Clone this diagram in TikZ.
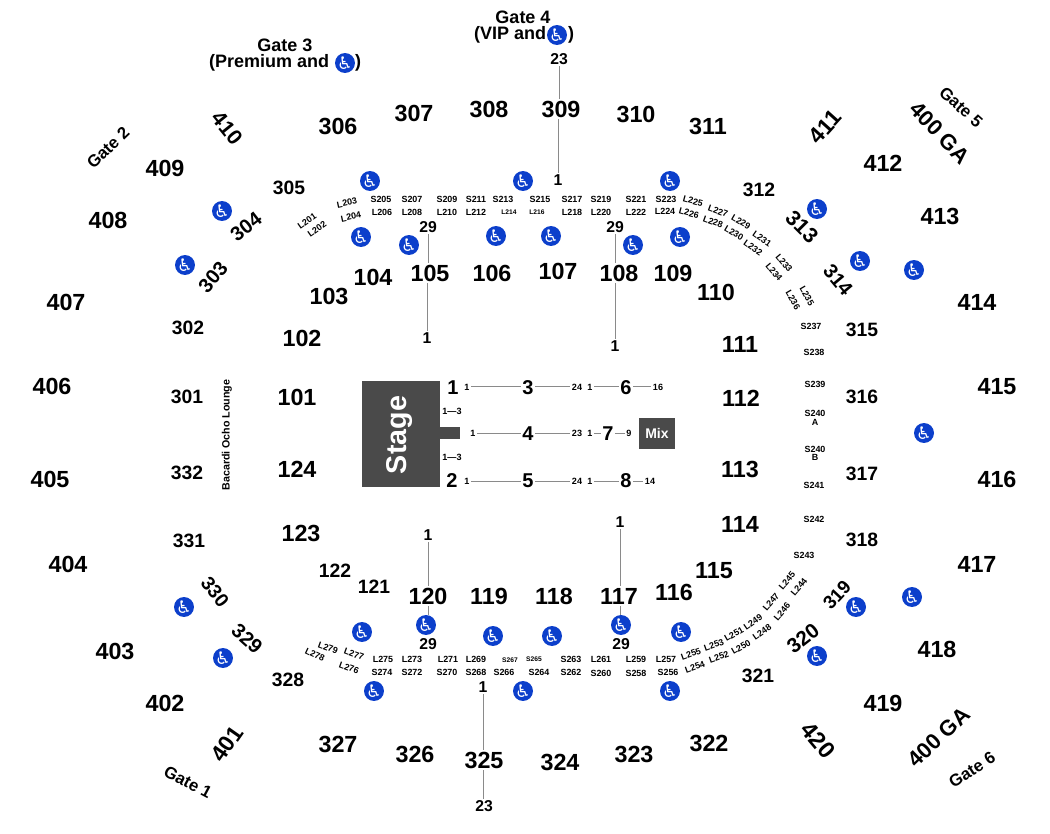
\documentclass[tikz,border=0pt]{standalone}
\usepackage{fontspec}
\setmainfont{Liberation Sans}
\newfontfamily\djv{DejaVu Sans}
\definecolor{wcblue}{HTML}{0C3FCB}
\definecolor{dk}{HTML}{4A4A4A}
\definecolor{ln}{HTML}{8A8A8A}
\newcommand{\fz}[1]{\bfseries\fontsize{#1}{#1}\selectfont}
\tikzset{
 lab/.style={inner sep=1.2pt,text=black},
 big/.style={lab,font=\fz{17.5}},
 mid/.style={lab,font=\fz{14.5}},
 pit/.style={lab,font=\fz{15}},
 num/.style={lab,font=\fz{11.8}},
 gate/.style={lab,font=\fz{13.5}},
 gatesm/.style={lab,font=\fz{12.6}},
 seat/.style={lab,font=\fz{6.7}},
 tiny/.style={lab,font=\fz{5}},
 row/.style={lab,font=\fz{6.8}},
 wc/.style={circle,fill=wcblue,text=white,minimum size=14.6pt,inner sep=0pt,font=\djv\fontsize{13}{13}\selectfont},
 conn/.style={draw=ln,line width=0.75pt},
 block/.style={fill=dk,draw=none}
}
\begin{document}
\begin{tikzpicture}[x=0.75pt,y=-0.75pt]
\useasboundingbox (0,0) rectangle (1050,834);
% stage and mix
\fill[block] (362,381) rectangle (440,487);
\fill[block] (440,427) rectangle (460,439);
\node[text=white,font=\fz{21.5},rotate=90,inner sep=0pt] (stage) at (400,435) {Stage};
\node[block,text=white,font=\fz{10.5},minimum width=27pt,minimum height=23.3pt,inner sep=0pt] (mix) at (657,433.5) {Mix};
% upper and outer sections
\foreach \n/\x/\y in {409/165/168,408/108/220,407/66/302,406/52/386,405/50/479,404/68/564,403/115/651,402/165/703,
 412/883/163,413/940/216,414/977/302,415/997/387,416/997/479,417/977/564,418/937/649,419/883/703,
 306/338/126,307/414/113,308/489/109,309/561/109,310/636/114,311/708/126,
 327/338/744,326/415/754,325/484/760,324/560/762,323/634/754,322/709/743,
 104/373/277,105/430/273,106/492/273,107/558/271,108/619/273,109/673/273,110/716/292,
 103/329/296,102/302/338,101/297/397,124/297/469,123/301/533,
 120/428/596,119/489/596,118/554/596,117/619/596,116/674/592,115/714/571,
 114/740/524,113/740/469,112/741/398,111/740/344}
 \node[big] (s\n) at (\x,\y) {\n};
\foreach \n/\x/\y in {305/289/188,312/759/190,302/188/328,301/187/397,332/187/473,331/189/541,
 315/862/330,316/862/397,317/862/474,318/862/540,328/288/680,321/758/676,121/374/587,122/335/571}
 \node[mid] (s\n) at (\x,\y) {\n};
% rotated sections
\foreach \n/\x/\y/\r/\z in {304/246/227/38/15,303/213/277/50/15,330/215/592/-52/14.5,329/247/639/-42/15,319/837/595/47/14,
 313/802/227/-45/16,314/838/280/-50/15,320/803/638/38/15.5,
 410/227/128/-51/16,411/825/127/48/17,401/227/744/55/17,420/818/740/-50/17.5}
 \node[lab,font=\fz{\z},rotate=\r] (s\n) at (\x,\y) {\n};
\node[lab,font=\fz{16.5},rotate=-46] (gaTop) at (940,133) {400 GA};
\node[lab,font=\fz{16.5},rotate=44] (gaBot) at (939,737) {400 GA};
% gates
\node[gatesm,rotate=44] (g2) at (108,148) {Gate 2};
\node[gatesm,rotate=-42] (g5) at (961,107) {Gate 5};
\node[gatesm,rotate=-28] (g1) at (188,782) {Gate 1};
\node[gatesm,rotate=33] (g6) at (972,770) {Gate 6};
\node[gate] (g3) at (285,45) {Gate 3};
\node[gate,anchor=east] (g3b) at (331,63) {(Premium and};
\node[gate] (g3c) at (358,63) {)};
\node[gate] (g4) at (523,17) {Gate 4};
\node[gate,anchor=east] (g4b) at (548,35) {(VIP and};
\node[gate] (g4c) at (571,35) {)};
% wheelchair marks
\foreach \i/\x/\y in {1/370/181,2/523/181,3/670/181,4/222/211,5/817/209,6/361/237,7/409/245,8/496/236,9/551/236,10/633/245,11/680/237,12/185/265,13/860/261,14/914/270,15/924/433,16/362/632,17/426/625,18/493/636,19/552/636,20/621/625,21/681/632,22/184/607,23/223/658,24/856/607,25/912/597,26/817/656,27/374/691,28/523/691,29/670/691,30/345/63,31/557/35}
 \node[wc] (wc\i) at (\x,\y) {♿};
% row numbers
\foreach \i/\t/\x/\y in {a/23/559/59,b/1/558/180,c/29/428/227,d/29/615/227,e/1/427/338,f/1/615/346,g/1/620/522,h/1/428/535,i/29/428/644,j/29/621/644,k/1/483/687,l/23/484/806}
 \node[num] (r\i) at (\x,\y) {\t};
% seats, flat
\foreach \t/\x/\y in {S205/381/199,S207/412/199,S209/447/199,S211/476/199,S213/503/199,S215/540/199,S217/572/199,S219/601/199,S221/636/199,S223/666/199,
 L206/382/212,L208/412/212,L210/447/212,L212/476/212,L218/572/212,L220/601/212,L222/636/212,L224/665/211,
 S237/811/326,S238/814/352,S239/815/384,S240/815/413,S241/814/485,S242/814/519,S243/804/555,
 L275/383/659,L273/412/659,L271/448/659,L269/476/659,S263/571/659,L261/601/659,L259/636/659,L257/666/659,
 S274/382/672,S272/412/672,S270/447/672,S268/476/672,S266/504/672,S264/539/672,S262/571/672,S260/601/673,S258/636/673,S256/668/672}
 \node[seat] (\t) at (\x,\y) {\t};
\node[seat] (S240A) at (815,422) {A};
\node[seat] (S240b) at (815,449) {S240};
\node[seat] (S240B) at (815,457) {B};
\foreach \t/\x/\y in {L214/509/212,L216/537/212,S267/510/660,S265/534/659}
 \node[tiny] (\t) at (\x,\y) {\t};
% seats, on the curve
\foreach \t/\x/\y/\r in {L203/347/203/12,L204/351/217/12,L201/307/221/35,L202/317/229/35,
 L225/693/201/-15,L226/689/213/-15,L227/718/211/-20,L228/713/222/-20,L229/741/222/-30,L230/734/233/-30,L231/762/239/-35,L232/753/248/-35,L233/784/263/-50,L234/774/272/-50,L235/807/296/-60,L236/793/300/-60,
 L279/328/648/-20,L278/315/655/-25,L277/354/654/-20,L276/349/668/-20,
 L255/691/654/20,L254/695/667/20,L253/714/645/20,L252/719/657/20,L251/734/634/30,L250/741/647/30,L249/753/622/35,L248/762/632/35,L247/771/602/50,L246/782/612/50,L245/787/581/50,L244/799/587/50}
 \node[seat,rotate=\r] (\t) at (\x,\y) {\t};
% lounge
\node[lab,font=\fz{8},rotate=90] (lounge) at (227,435) {Bacardi Ocho Lounge};
% floor
\foreach \n/\x/\y in {1/453/388,2/452/481,3/528/388,4/528/434,5/528/481,6/626/388,7/608/434,8/626/481}
 \node[pit] (p\n) at (\x,\y) {\n};
\foreach \i/\t/\x/\y in {a/1/467/387,b/24/577/387,c/1/590/387,d/16/658/387,e/1/473/433,f/23/577/433,g/1/590/433,h/9/629/433,i/1/467/481,j/24/577/481,k/1/590/481,l/14/650/481}
 \node[row] (f\i) at (\x,\y) {\t};
\node[row] (u13) at (452,411) {1—3};
\node[row] (d13) at (452,457) {1—3};
% connectors
\draw[conn] (fa) -- (fa -| p3.west);
\draw[conn] (fb -| p3.east) -- (fb);
\draw[conn] (fc) -- (fc -| p6.west);
\draw[conn] (fd -| p6.east) -- (fd);
\draw[conn] (fe) -- (fe -| p4.west);
\draw[conn] (ff -| p4.east) -- (ff);
\draw[conn] (fg) -- (fg -| p7.west);
\draw[conn] (fh -| p7.east) -- (fh);
\draw[conn] (fi) -- (fi -| p5.west);
\draw[conn] (fj -| p5.east) -- (fj);
\draw[conn] (fk) -- (fk -| p8.west);
\draw[conn] (fl -| p8.east) -- (fl);
\draw[conn] (ra) -- (ra |- s309.north);
\draw[conn] (rb |- s309.south) -- (rb);
\draw[conn] (rc) -- (rc |- s105.north);
\draw[conn] (re |- s105.south) -- (re);
\draw[conn] (rd) -- (rd |- s108.north);
\draw[conn] (rf |- s108.south) -- (rf);
\draw[conn] (rh) -- (rh |- s120.north);
\draw[conn] (rh |- s120.south) -- (rh |- wc17.north);
\draw[conn] (rg) -- (rg |- s117.north);
\draw[conn] (rg |- s117.south) -- (rg |- wc20.north);
\draw[conn] (rk) -- (rk |- s325.north);
\draw[conn] (rk |- s325.south) -- (rk |- rl.north);
\end{tikzpicture}
\end{document}
